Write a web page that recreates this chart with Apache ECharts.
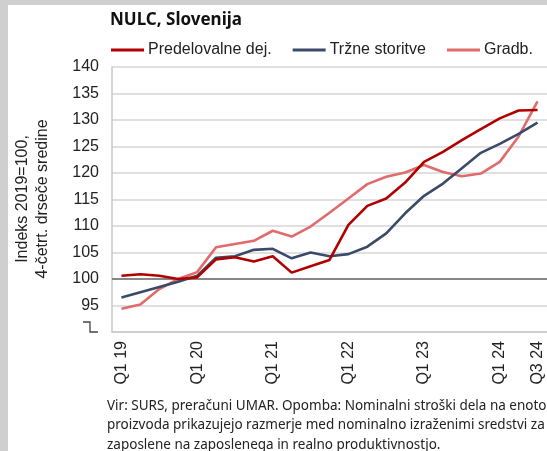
<!DOCTYPE html>
<html>
<head>
<meta charset="utf-8">
<script src="https://cdn.jsdelivr.net/npm/echarts@6/dist/echarts.min.js"></script>
<style>
	html,body{margin:0;padding:0;background:#fff;}
	#wrap{position:relative;width:547px;height:451px;overflow:hidden;}
	#chart{position:absolute;left:0;top:0;width:547px;height:451px;}
	#bl{position:absolute;left:0;top:0;width:8px;height:451px;background:#cfcfcf;}
	#bt{position:absolute;left:0;top:0;width:547px;height:5px;background:#cfcfcf;}
</style>
</head>
<body>
<div id="wrap">
	<div id="chart"></div>
	<div id="bl"></div>
	<div id="bt"></div>
</div>
<script>
// kategorije (četrtletja)
var kategorije = ['Q1 19','Q2 19','Q3 19','Q4 19','Q1 20','Q2 20','Q3 20','Q4 20',
	'Q1 21','Q2 21','Q3 21','Q4 21','Q1 22','Q2 22','Q3 22','Q4 22',
	'Q1 23','Q2 23','Q3 23','Q4 23','Q1 24','Q2 24','Q3 24'];

// podatki, odčitani s slike
var predelovalne = [100.6,100.9,100.6,100.0,100.3,103.7,104.1,103.3,104.3,101.2,102.4,103.6,
	110.2,113.8,115.2,118.2,122.1,124.0,126.2,128.3,130.3,131.8,131.9];
var trzne = [96.5,97.5,98.5,99.5,100.6,104.0,104.3,105.5,105.7,103.9,105.0,104.3,
	104.7,106.1,108.6,112.4,115.7,118.0,120.9,123.8,125.5,127.4,129.5];
var gradb = [94.4,95.2,98.1,100.0,101.3,106.0,106.6,107.2,109.1,108.0,109.9,112.5,
	115.2,117.9,119.3,120.1,121.5,120.2,119.4,119.9,122.1,126.9,133.5];

var imena = ['Predelovalne dej.','Tržne storitve','Gradb.'];
var barve = ['#b00000','#3b4a68','#e06b6b'];

var myChart = echarts.init(document.getElementById('chart'));//graf

var pisava = 'Liberation Sans, Arial, sans-serif';

var option = {
	backgroundColor:'#fff',
	animation:false,
	title:{
		text:'NULC, Slovenija',
		left:105, top:7,
		textStyle:{fontFamily:'Noto Sans, sans-serif',fontWeight:'bold',fontSize:17,color:'#111'}
	},
	legend:{
		left:106, top:37,
		itemWidth:33, itemHeight:3, itemGap:21,
		icon:'rect',
		textStyle:{fontFamily:pisava,fontSize:16,color:'#222',padding:[0,0,0,-1]},
		data:imena
	},
	grid:{left:112, top:67, width:441, height:265},
	xAxis:{
		type:'category',
		data:kategorije,
		boundaryGap:true,
		axisLine:{lineStyle:{color:'#c8c8c8',width:1.5}},
		axisTick:{alignWithLabel:true,interval:0,length:5,lineStyle:{color:'#c8c8c8'}},
		axisLabel:{
			rotate:90, margin:9,
			fontFamily:pisava, fontSize:16, color:'#222',
			interval:function(i){return i%4===0||i===kategorije.length-1;}
		},
		splitLine:{show:false}
	},
	yAxis:{
		type:'value',
		min:90, max:140, interval:5,
		axisLine:{show:true,lineStyle:{color:'#c8c8c8',width:1.5}},
		axisTick:{show:false},
		axisLabel:{
			margin:13, fontFamily:pisava, fontSize:16, color:'#222',
			formatter:function(v){return v===90?'':v;}
		},
		splitLine:{lineStyle:{color:'#d6d6d6',width:1.5}}
	},
	graphic:[
		{//naslov osi y
			type:'text', x:33, y:199, rotation:Math.PI/2,
			style:{
				text:'Indeks 2019=100,\n4-četrt. drseče sredine',
				fontFamily:pisava, fontSize:16, fill:'#222', lineHeight:20,
				textAlign:'center', textVerticalAlign:'middle'
			}
		},
		{//prelom osi
			type:'polyline',
			shape:{points:[[83,322],[90,322],[90,332],[98,332]]},
			style:{stroke:'#444',lineWidth:1.3,fill:null}
		},
		{//opomba
			type:'text', left:107, top:396,
			style:{
				text:'Vir: SURS, preračuni UMAR. Opomba: Nominalni stroški dela na enoto\nproizvoda prikazujejo razmerje med nominalno izraženimi sredstvi za\nzaposlene na zaposlenega in realno produktivnostjo.',
				fontFamily:'Noto Sans, sans-serif', fontSize:13.5, fill:'#222', lineHeight:19.5
			}
		}
	],
	series:[]
};

for(var s=0;s<3;s++){
	var podatki = [predelovalne,trzne,gradb][s];
	var serija = {
		name:imena[s],
		type:'line',
		data:podatki,
		symbol:'none',
		lineStyle:{width:2.6,color:barve[s]},
		itemStyle:{color:barve[s]},
		z:10-s
	};
	if(s===0){
		serija.markLine = {
			silent:true, symbol:'none', label:{show:false},
			lineStyle:{color:'#6a6a6a',width:1.6,type:'solid'},
			data:[{yAxis:100}],
			z:1
		};
	}
	option.series.push(serija);
}
myChart.setOption(option);
</script>
</body>
</html>
